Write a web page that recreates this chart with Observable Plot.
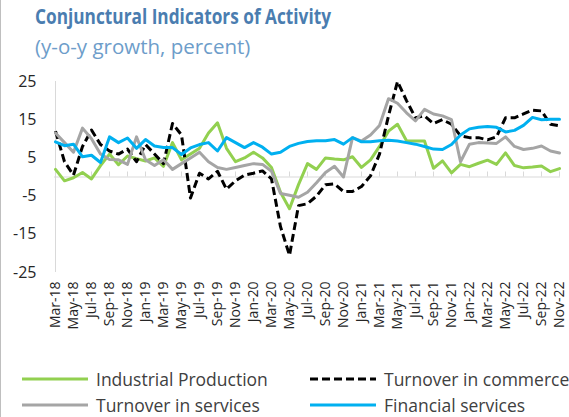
<!DOCTYPE html>
<html>
<head>
<meta charset="utf-8">
<script src="https://cdn.jsdelivr.net/npm/d3@7"></script>
<script src="https://cdn.jsdelivr.net/npm/@observablehq/plot@0.6"></script>
<style>
  html,body{margin:0;padding:0;background:#fff;}
  #wrap{position:relative;width:569px;height:417px;overflow:hidden;font-family:"Open Sans",sans-serif;}
  #edge{position:absolute;left:0;top:0;width:1px;height:417px;background:#bfbfbf;}
  #title{position:absolute;left:35px;top:2px;font-size:21px;font-weight:700;color:#4a7db0;white-space:nowrap;transform-origin:0 0;}
  #subtitle{position:absolute;left:35px;top:32px;font-size:20.5px;color:#6d9dca;white-space:nowrap;}
  #chart{position:absolute;left:0;top:60px;}
  .leg{position:absolute;display:flex;align-items:center;height:24px;font-size:17.5px;color:#404040;white-space:nowrap;}
  .leg svg{margin-right:8px;}
</style>
</head>
<body>
<div id="wrap">
  <div id="edge"></div>
  <div id="title">Conjunctural Indicators of Activity</div>
  <div id="subtitle">(y-o-y growth, percent)</div>
  <div id="chart"></div>
  <div id="legend"></div>
</div>
<script>
const months = ["Mar-18","Apr-18","May-18","Jun-18","Jul-18","Aug-18","Sep-18","Oct-18","Nov-18","Dec-18",
  "Jan-19","Feb-19","Mar-19","Apr-19","May-19","Jun-19","Jul-19","Aug-19","Sep-19","Oct-19","Nov-19","Dec-19",
  "Jan-20","Feb-20","Mar-20","Apr-20","May-20","Jun-20","Jul-20","Aug-20","Sep-20","Oct-20","Nov-20","Dec-20",
  "Jan-21","Feb-21","Mar-21","Apr-21","May-21","Jun-21","Jul-21","Aug-21","Sep-21","Oct-21","Nov-21","Dec-21",
  "Jan-22","Feb-22","Mar-22","Apr-22","May-22","Jun-22","Jul-22","Aug-22","Sep-22","Oct-22","Nov-22"];

const industrial = [2.0, -1.0, -0.2, 1.2, -0.5, 3.0, 6.0, 3.2, 5.5, 4.8,
  4.2, 5.0, 2.8, 9.0, 4.5, 6.0, 7.5, 11.5, 14.2, 7.5,
  4.0, 5.0, 6.5, 5.0, 2.5, -4.0, -8.3, -2.0, 3.5, 2.0,
  5.0, 4.7, 4.5, 5.3, 2.5, 4.5, 8.0, 12.0, 13.8, 9.5,
  9.4, 9.4, 2.3, 4.2, 1.1, 3.3, 2.7, 3.6, 4.4, 3.3,
  6.3, 3.0, 2.4, 2.6, 2.9, 1.4, 2.2];

const commerce = [12.0, 4.0, 0.5, 8.0, 12.3, 8.5, 6.8, 6.0, 7.3, 4.0,
  8.5, 6.0, 3.5, 14.0, 11.0, -5.5, 1.0, -0.5, 1.5, -3.2,
  -1.0, 0.5, 1.0, 1.6, -0.5, -13.0, -20.5, -7.5, -7.0, -5.0,
  -2.0, -1.8, -3.8, -3.8, -2.5, 0.3, 6.0, 16.0, 25.0, 20.0,
  15.5, 16.0, 14.0, 15.0, 13.8, 10.8, 10.3, 10.3, 9.7, 10.5,
  15.5, 15.5, 16.5, 17.5, 17.3, 13.8, 13.4];

const services = [11.5, 9.0, 6.5, 12.8, 10.0, 6.0, 4.6, 4.5, 3.3, 10.5,
  4.5, 3.0, 4.5, 2.0, 3.5, 5.0, 6.5, 4.0, 2.5, 2.0,
  2.5, 3.0, 3.5, 3.3, 1.5, -4.3, -4.8, -5.3, -4.0, -1.5,
  1.2, 2.8, 0.0, 10.3, 9.4, 11.0, 13.5, 20.5, 19.3, 16.8,
  14.7, 17.7, 16.5, 16.0, 15.0, 4.0, 8.6, 9.0, 8.9, 8.8,
  10.5, 8.0, 7.2, 7.5, 8.1, 6.8, 6.3];

const financial = [9.2, 8.2, 8.6, 5.3, 5.7, 3.8, 10.5, 9.0, 10.2, 7.5,
  9.8, 8.1, 7.7, 7.7, 5.9, 7.6, 8.5, 9.0, 6.8, 10.3,
  9.0, 7.7, 9.0, 7.8, 6.0, 6.5, 8.0, 8.8, 9.3, 9.5,
  9.5, 9.8, 8.6, 10.3, 9.2, 9.2, 9.5, 9.6, 9.4, 9.0,
  8.6, 8.0, 7.3, 7.2, 8.5, 11.0, 12.6, 13.0, 13.2, 13.0,
  11.8, 12.2, 13.5, 15.6, 15.0, 15.1, 15.1];

const yTicks = [25, 15, 5, -5, -15, -25];
const tickMonths = months.filter((d, i) => i % 2 === 0);

const seriesNames = ["Industrial Production", "Turnover in commerce", "Turnover in services", "Financial services"];
const seriesValues = [industrial, commerce, services, financial];
const seriesColors = ["#92d050", "#000000", "#a5a5a5", "#00b0f0"];
const seriesDash = [null, "8,4", null, null];
const axisGray = "#d9d9d9";

const rows = seriesValues.flatMap((vals, s) =>
  vals.map((v, i) => ({month: months[i], value: v, series: seriesNames[s]})));

const lineMarks = seriesNames.map((name, s) => {
  const opts = {x: "month", y: "value", stroke: seriesColors[s], strokeWidth: 3,
    strokeLinejoin: "round", strokeLinecap: seriesDash[s] ? "butt" : "round"};
  if (seriesDash[s]) opts.strokeDasharray = seriesDash[s];
  return Plot.line(rows.filter(r => r.series === name), opts);
});

const chart = Plot.plot({
  width: 569, height: 290,
  marginLeft: 54, marginRight: 9, marginTop: 21, marginBottom: 78,
  style: {fontFamily: '"Open Sans", sans-serif', color: "#262626", background: "transparent", overflow: "visible"},
  x: {type: "point", domain: months, padding: 0},
  y: {domain: [-25, 25]},
  marks: [
    Plot.ruleX([months[0]], {x: d => d, stroke: axisGray}),
    Plot.ruleY([0], {stroke: axisGray}),
    Plot.ruleY(yTicks, {y: d => d, x1: months[0], x2: months[0], insetRight: -6, stroke: axisGray}),
    Plot.ruleX(tickMonths, {x: d => d, y1: 0, y2: 0, insetBottom: 5, stroke: axisGray}),
    Plot.axisY({ticks: yTicks, tickSize: 0, tickPadding: 18, fontSize: 16, tickFormat: d => String(d), label: null}),
    Plot.axisX({ticks: tickMonths, tickSize: 0, tickPadding: 9, tickRotate: -90, fontSize: 14, label: null}),
    ...lineMarks
  ]
});
document.getElementById("chart").appendChild(chart);

// legend
const legendPos = [
  {left: 22, top: 367}, {left: 310, top: 367},
  {left: 22, top: 393}, {left: 310, top: 393}
];
const legendOrder = [0, 1, 2, 3];
const legend = document.getElementById("legend");
legendOrder.forEach((s, k) => {
  const div = document.createElement("div");
  div.className = "leg";
  div.style.left = legendPos[k].left + "px";
  div.style.top = legendPos[k].top + "px";
  const dash = seriesDash[s] ? `stroke-dasharray="${seriesDash[s]}"` : "";
  div.innerHTML = `<svg width="66" height="6"><line x1="0" y1="3" x2="66" y2="3" stroke="${seriesColors[s]}" stroke-width="3" ${dash}/></svg><span>${seriesNames[s]}</span>`;
  legend.appendChild(div);
});

// fit title width
const t = document.getElementById("title");
const w = t.getBoundingClientRect().width;
if (w > 296) t.style.transform = `scaleX(${296 / w})`;
</script>
</body>
</html>
